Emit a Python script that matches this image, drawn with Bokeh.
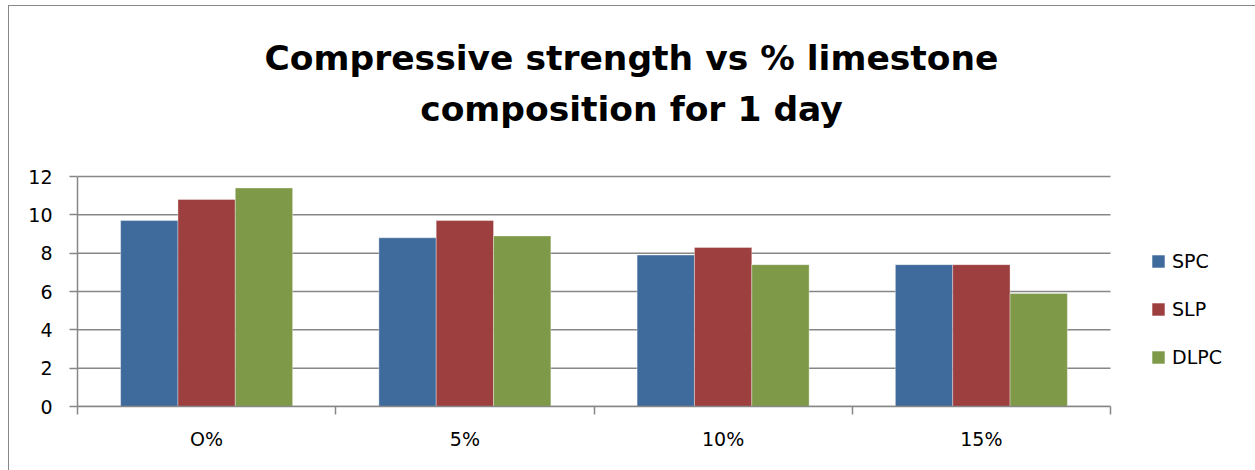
from bokeh.plotting import figure
from bokeh.models import (Range1d, FixedTicker, Legend, LegendItem, Label, ColumnDataSource,
                          InlineStyleSheet)
from bokeh.transform import dodge
from bokeh.embed import file_html
from bokeh.resources import INLINE

categories = ["O%", "5%", "10%", "15%"]
spc = [9.7, 8.8, 7.9, 7.4]
slp = [10.8, 9.7, 8.3, 7.4]
dlpc = [11.4, 8.9, 7.4, 5.9]
series_names = ["SPC", "SLP", "DLPC"]
colors = ["#3F6A9C", "#9D3F3F", "#7E9A48"]
title_lines = ["Compressive strength vs % limestone", "composition for 1 day"]
y_ticks = [0, 2, 4, 6, 8, 10, 12]

FONT = "DejaVu Sans"
GRAY = "#878787"
W, H = 1255, 470
LEFT, BOTTOM = 77, 64          # space for the axes
PLOT_RIGHT, PLOT_TOP = 1110, 176  # where the value area ends (pixels)

n = len(categories)
ymax = y_ticks[-1]
centers = [i + 0.5 for i in range(n)]
src = ColumnDataSource(dict(xc=centers, cat=categories, SPC=spc, SLP=slp, DLPC=dlpc))

frame_w = W - LEFT
frame_h = H - BOTTOM
x_end = n * frame_w / (PLOT_RIGHT - LEFT)
y_end = ymax * frame_h / (frame_h - PLOT_TOP)

p = figure(width=W, height=H,
           x_range=Range1d(0, x_end), y_range=Range1d(0, y_end),
           output_backend="svg", toolbar_location=None, title_location=None,
           min_border_left=LEFT, min_border_right=0,
           min_border_top=0, min_border_bottom=BOTTOM)
p.outline_line_color = None
p.xgrid.visible = False
p.ygrid.visible = False

# horizontal grid lines, limited to the value area
p.segment(x0=[0] * len(y_ticks), x1=[n] * len(y_ticks), y0=y_ticks, y1=y_ticks,
          line_color=GRAY, line_width=1.5, level="underlay")

# y axis
ya = p.yaxis[0]
ya.bounds = (0, ymax)
ya.ticker = FixedTicker(ticks=y_ticks, minor_ticks=[])
ya.axis_line_color = GRAY
ya.axis_line_width = 1.5
ya.major_tick_line_color = GRAY
ya.major_tick_line_width = 1.5
ya.major_tick_out = 8
ya.major_tick_in = 0
ya.minor_tick_line_color = None
ya.major_label_standoff = 17
ya.major_label_text_font = FONT
ya.major_label_text_font_size = "19px"
ya.major_label_text_color = "#000000"

# x axis: labels at category centres, ticks at category boundaries
xa = p.xaxis[0]
xa.bounds = (0, n)
xa.ticker = FixedTicker(ticks=centers, minor_ticks=list(range(n + 1)))
xa.major_label_overrides = {c: lab for c, lab in zip(centers, categories)}
xa.axis_line_color = GRAY
xa.axis_line_width = 1.5
xa.major_tick_line_color = None
xa.major_tick_out = 0
xa.major_tick_in = 0
xa.minor_tick_line_color = GRAY
xa.minor_tick_line_width = 1.5
xa.minor_tick_out = 8
xa.minor_tick_in = 0
xa.major_label_standoff = 13
xa.major_label_text_font = FONT
xa.major_label_text_font_size = "19px"
xa.major_label_text_color = "#000000"

# bars
w = 0.222
offsets = [-w, 0.0, w]
renderers = []
for name, col, off in zip(series_names, colors, offsets):
    r = p.vbar(x=dodge("xc", off), top=name, width=w, source=src,
               fill_color=col, line_color="#ffffff", line_alpha=0.35, line_width=1)
    renderers.append(r)

legend = Legend(items=[LegendItem(label=s, renderers=[r]) for s, r in zip(series_names, renderers)],
                location=(1150 - LEFT, 38), orientation="vertical",
                border_line_color=None, background_fill_alpha=0,
                padding=0, margin=0, glyph_width=16, glyph_height=16,
                label_standoff=6, label_height=22, spacing=26,
                label_text_font=FONT, label_text_font_size="19px", label_text_color="#000000")
p.add_layout(legend)

# title (two lines), centred on the chart area
for txt, yy in zip(title_lines, [H - BOTTOM - 57, H - BOTTOM - 108]):
    p.add_layout(Label(x=631 - LEFT, y=yy, x_units="screen", y_units="screen", text=txt,
                       text_align="center", text_baseline="alphabetic",
                       text_font=FONT, text_font_size="34.5px", text_font_style="bold",
                       text_color="#000000"))

p.stylesheets = [InlineStyleSheet(css=":host::after{content:'';position:absolute;left:8px;top:5px;"
                                      "right:-20px;bottom:-20px;border:1.5px solid #878787;"
                                      "pointer-events:none;}")]

open("out.html", "w").write(file_html(p, INLINE))
